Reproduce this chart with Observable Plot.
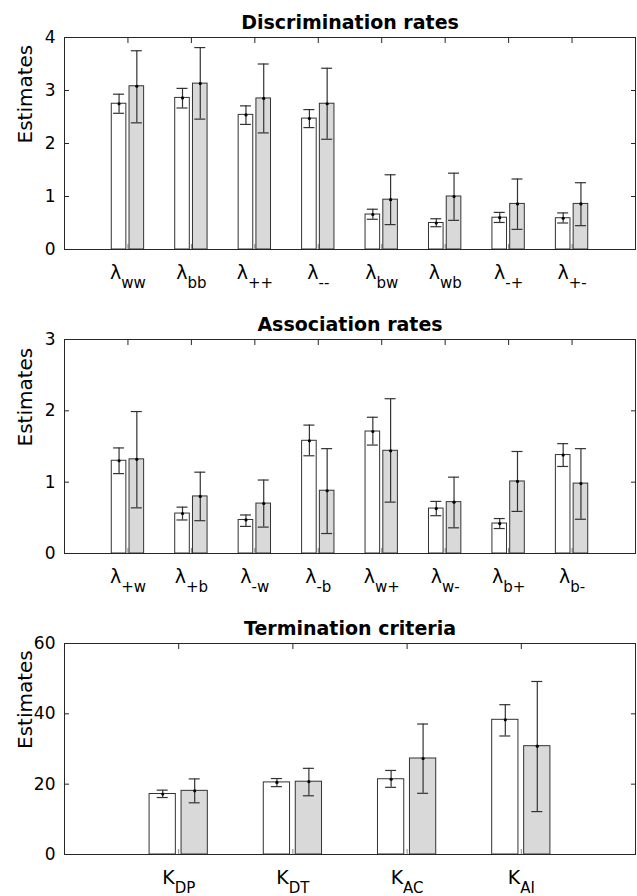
<!DOCTYPE html>
<html><head><meta charset="utf-8">
<script src="https://cdn.jsdelivr.net/npm/d3@7"></script>
<script src="https://cdn.jsdelivr.net/npm/@observablehq/plot@0.6"></script>
<style>body{margin:0;background:#fff} #chart svg{display:block}</style>
</head><body><div id="chart"></div>
<script>
// Panel 1: Discrimination rates
const discCats = ["ww", "bb", "++", "--", "bw", "wb", "-+", "+-"];
const discWhite   = [2.75, 2.86, 2.54, 2.47, 0.66, 0.50, 0.60, 0.59];
const discWhiteLo = [2.57, 2.67, 2.36, 2.30, 0.57, 0.43, 0.51, 0.50];
const discWhiteHi = [2.93, 3.04, 2.71, 2.64, 0.76, 0.58, 0.70, 0.69];
const discGrey    = [3.08, 3.13, 2.85, 2.75, 0.94, 1.00, 0.86, 0.86];
const discGreyLo  = [2.39, 2.46, 2.20, 2.08, 0.47, 0.55, 0.38, 0.45];
const discGreyHi  = [3.75, 3.81, 3.50, 3.42, 1.41, 1.44, 1.33, 1.26];
const discTicks   = [0, 1, 2, 3, 4];

// Panel 2: Association rates
const assocCats = ["+w", "+b", "-w", "-b", "w+", "w-", "b+", "b-"];
const assocWhite   = [1.30, 0.56, 0.47, 1.58, 1.71, 0.63, 0.42, 1.38];
const assocWhiteLo = [1.12, 0.47, 0.38, 1.37, 1.52, 0.53, 0.35, 1.22];
const assocWhiteHi = [1.48, 0.65, 0.54, 1.80, 1.91, 0.73, 0.49, 1.54];
const assocGrey    = [1.32, 0.80, 0.70, 0.88, 1.44, 0.72, 1.01, 0.98];
const assocGreyLo  = [0.64, 0.46, 0.37, 0.28, 0.72, 0.36, 0.59, 0.48];
const assocGreyHi  = [1.99, 1.14, 1.03, 1.47, 2.17, 1.07, 1.43, 1.47];
const assocTicks   = [0, 1, 2, 3];

// Panel 3: Termination criteria
const termCats = ["DP", "DT", "AC", "AI"];
const termWhite   = [17.2, 20.5, 21.4, 38.3];
const termWhiteLo = [16.2, 19.3, 19.1, 33.7];
const termWhiteHi = [18.3, 21.6, 23.9, 42.6];
const termGrey    = [18.1, 20.7, 27.3, 30.8];
const termGreyLo  = [14.7, 16.7, 17.4, 12.2];
const termGreyHi  = [21.5, 24.5, 37.1, 49.2];
const termTicks   = [0, 20, 40, 60];

const yLabel = "Estimates";

function panel(o) {
  const n = o.cats.length;
  const off = 0.14, bw = 0.23;
  const whiteRows = o.cats.map((c, i) => ({pos: i + 1 - off, v: o.white[i], lo: o.whiteLo[i], hi: o.whiteHi[i]}));
  const greyRows = o.cats.map((c, i) => ({pos: i + 1 + off, v: o.grey[i], lo: o.greyLo[i], hi: o.greyHi[i]}));
  const rows = whiteRows.concat(greyRows);
  const xt = d3.range(1, n + 1);
  const yMax = o.yTicks[o.yTicks.length - 1];
  const errColor = "#333";
  const svg = Plot.plot({
    width: 637, height: o.height, marginTop: o.marginTop, marginBottom: o.marginBottom,
    marginLeft: 64, marginRight: 2,
    style: {fontFamily: "DejaVu Sans", fontSize: "17px", background: "white", color: "#000"},
    x: {domain: [0, n + 1], axis: null, label: null},
    y: {domain: [0, yMax], axis: null, label: null},
    marks: [
      Plot.axisX(xt, {anchor: "bottom", tickSize: 5, dy: -5, tickFormat: () => "", stroke: "#888", label: null}),
      Plot.axisX(xt, {anchor: "top", tickSize: 5, dy: 5, tickFormat: () => "", stroke: "#262626", label: null}),
      Plot.axisY(o.yTicks, {anchor: "left", tickSize: 5, dx: 5, tickFormat: () => "", stroke: "#262626", label: null}),
      Plot.axisY(o.yTicks, {anchor: "right", tickSize: 5, dx: -5, tickFormat: () => "", stroke: "#262626", label: null}),
      Plot.axisY(o.yTicks, {anchor: "left", tickSize: 0, tickPadding: 9, tickFormat: d => String(d), label: null}),
      Plot.rectY(whiteRows, {x1: d => d.pos - bw / 2, x2: d => d.pos + bw / 2, y1: 0, y2: "v", fill: "white", stroke: "#333", strokeWidth: 1}),
      Plot.rectY(greyRows, {x1: d => d.pos - bw / 2, x2: d => d.pos + bw / 2, y1: 0, y2: "v", fill: "#d9d9d9", stroke: "#333", strokeWidth: 1}),
      Plot.ruleX(rows, {x: "pos", y1: "lo", y2: "hi", stroke: errColor, strokeWidth: 1.2}),
      Plot.ruleY(rows, {x1: "pos", x2: "pos", y: "lo", insetLeft: -5.5, insetRight: -5.5, stroke: errColor, strokeWidth: 1.2}),
      Plot.ruleY(rows, {x1: "pos", x2: "pos", y: "hi", insetLeft: -5.5, insetRight: -5.5, stroke: errColor, strokeWidth: 1.2}),
      Plot.dot(rows, {x: "pos", y: "v", r: 1.6, fill: "#000", stroke: null}),
      Plot.frame({stroke: "#262626"}),
      Plot.text(xt, {x: d => d, frameAnchor: "bottom", lineAnchor: "bottom", dy: 29, fontSize: 19, text: d => o.symbol + "|" + o.cats[d - 1]}),
      Plot.text([o.title], {text: d => d, frameAnchor: "top", lineAnchor: "bottom", dy: -9, fontSize: 19, fontWeight: "bold"}),
      Plot.text([yLabel], {text: d => d, frameAnchor: "left", rotate: -90, dx: -39, fontSize: 20})
    ]
  });
  d3.select(svg).selectAll("text").each(function () {
    const t = this.textContent;
    if (t.includes("|")) {
      const [main, sub] = t.split("|");
      const sel = d3.select(this);
      sel.text(null);
      sel.append("tspan").text(main);
      sel.append("tspan").attr("font-size", 15).attr("dy", 9).text(sub);
    }
  });
  return svg;
}

const chart = document.getElementById("chart");
chart.appendChild(panel({title: "Discrimination rates", symbol: "λ", cats: discCats,
  white: discWhite, whiteLo: discWhiteLo, whiteHi: discWhiteHi,
  grey: discGrey, greyLo: discGreyLo, greyHi: discGreyHi,
  yTicks: discTicks, height: 300, marginTop: 37, marginBottom: 51}));
chart.appendChild(panel({title: "Association rates", symbol: "λ", cats: assocCats,
  white: assocWhite, whiteLo: assocWhiteLo, whiteHi: assocWhiteHi,
  grey: assocGrey, greyLo: assocGreyLo, greyHi: assocGreyHi,
  yTicks: assocTicks, height: 300, marginTop: 39, marginBottom: 47}));
chart.appendChild(panel({title: "Termination criteria", symbol: "K", cats: termCats,
  white: termWhite, whiteLo: termWhiteLo, whiteHi: termWhiteHi,
  grey: termGrey, greyLo: termGreyLo, greyHi: termGreyHi,
  yTicks: termTicks, height: 296, marginTop: 43, marginBottom: 42}));
</script>
</body></html>
